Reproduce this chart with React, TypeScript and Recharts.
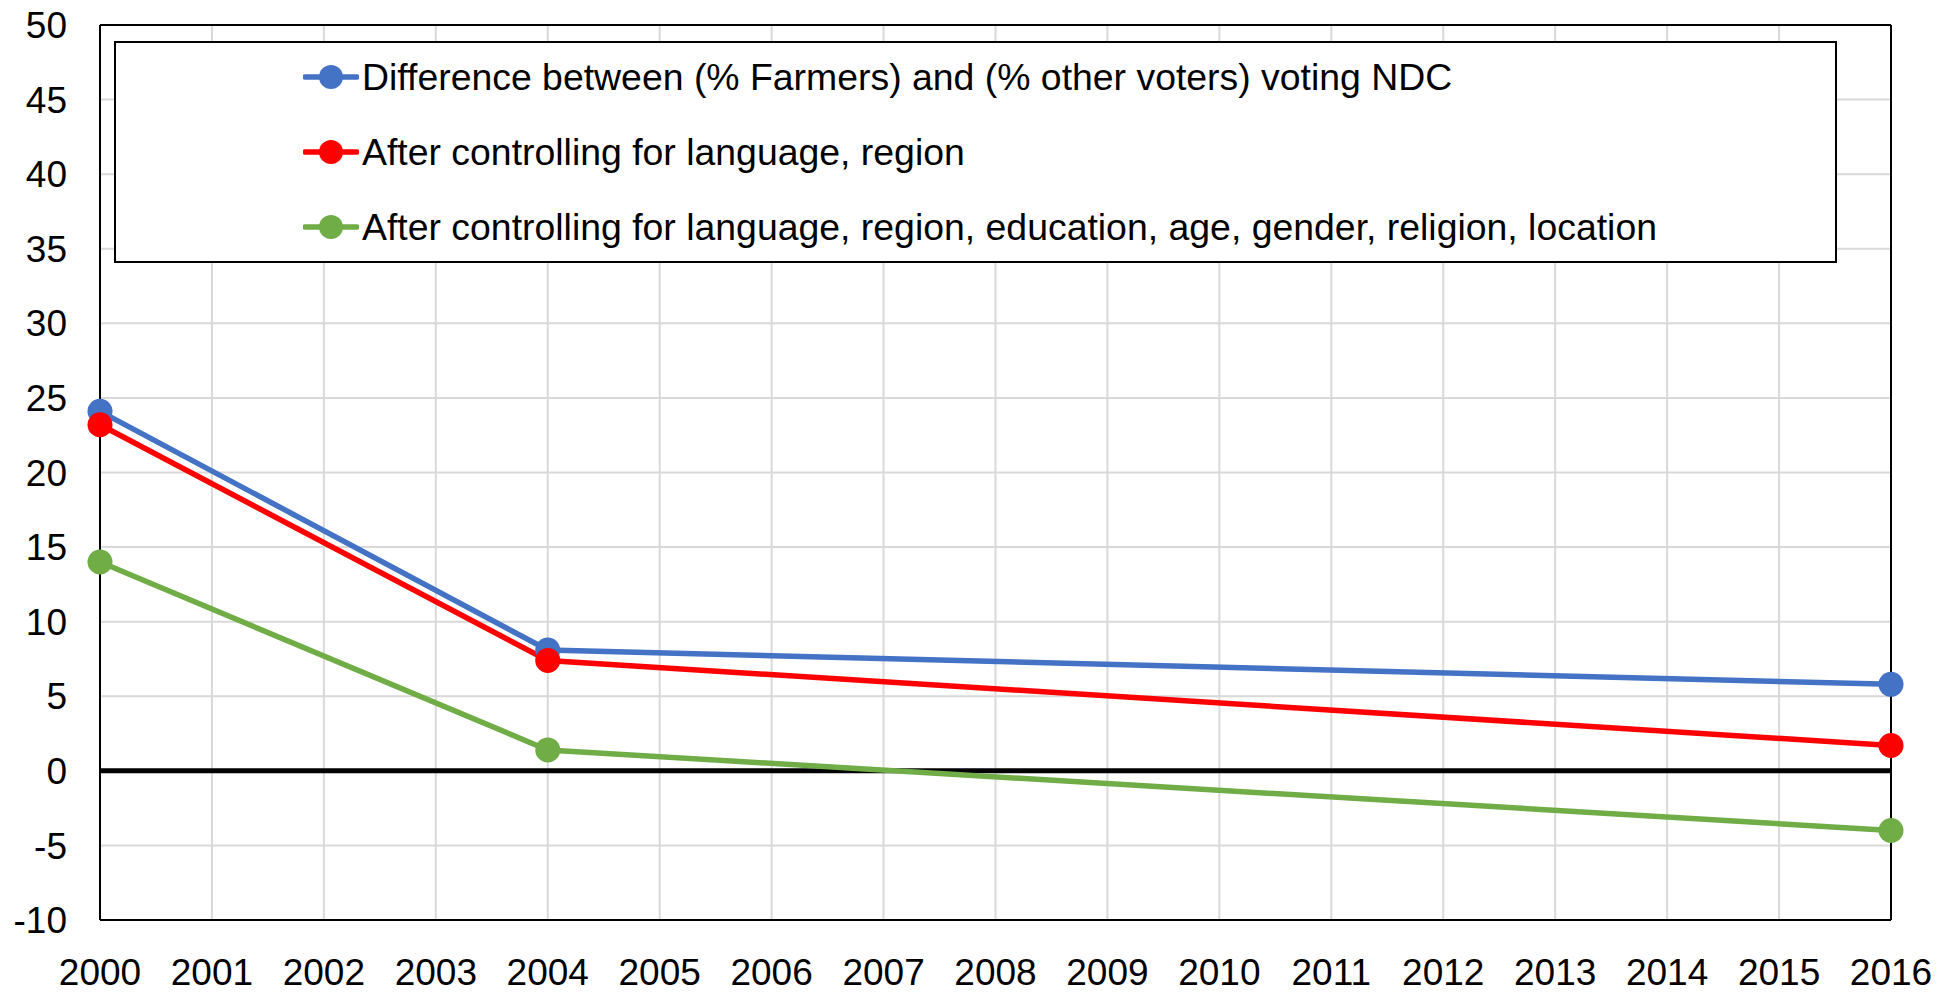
import React from 'react'
import { LineChart, Line, XAxis, YAxis, CartesianGrid, ReferenceLine } from 'recharts'

const SURVEY_YEARS = [2000, 2004, 2016]
const RAW_GAP = [24.1, 8.1, 5.8]
const CTRL_LANG_REGION = [23.2, 7.4, 1.7]
const CTRL_ALL = [14.0, 1.4, -4.0]

const YEAR_TICKS = [2000, 2001, 2002, 2003, 2004, 2005, 2006, 2007, 2008, 2009, 2010, 2011, 2012, 2013, 2014, 2015, 2016]
const VALUE_TICKS = [-10, -5, 0, 5, 10, 15, 20, 25, 30, 35, 40, 45, 50]

const SERIES = [
  { key: 'raw', name: 'Difference between (% Farmers) and (% other voters) voting NDC', colour: '#4472C4', values: RAW_GAP },
  { key: 'lang', name: 'After controlling for language, region', colour: '#FF0000', values: CTRL_LANG_REGION },
  { key: 'all', name: 'After controlling for language, region, education, age, gender, religion, location', colour: '#70AD47', values: CTRL_ALL },
]

const FONT = '"Liberation Sans", Arial, sans-serif'

export default function App() {
  const data = SURVEY_YEARS.map((year, i) => {
    const row: Record<string, number> = { year }
    for (const s of SERIES) row[s.key] = s.values[i]
    return row
  })

  return (
    <div style={{ position: 'fixed', left: 0, top: 0, width: 1955, height: 992, background: '#fff', fontFamily: FONT }}>
      <LineChart width={1955} height={992} data={data} margin={{ top: 25, right: 64, left: 0, bottom: 12 }}>
        <CartesianGrid stroke="#d9d9d9" strokeWidth={2} />
        <XAxis
          dataKey="year"
          type="number"
          domain={[2000, 2016]}
          ticks={YEAR_TICKS}
          allowDecimals={false}
          height={60}
          tickSize={0}
          tickMargin={39}
          axisLine={{ stroke: '#000', strokeWidth: 2 }}
          tick={{ fill: '#000', fontSize: 37, fontFamily: FONT }}
          interval={0}
        />
        <YAxis
          type="number"
          domain={[-10, 50]}
          ticks={VALUE_TICKS}
          width={100}
          tickSize={0}
          tickMargin={33}
          axisLine={{ stroke: '#000', strokeWidth: 2 }}
          tick={{ fill: '#000', fontSize: 37, fontFamily: FONT }}
          interval={0}
        />
        <ReferenceLine y={50} stroke="#000" strokeWidth={2} />
        <ReferenceLine x={2016} stroke="#000" strokeWidth={2} />
        <ReferenceLine y={0} stroke="#000" strokeWidth={5} />
        {SERIES.map(s => (
          <Line
            key={s.key}
            dataKey={s.key}
            type="linear"
            stroke={s.colour}
            strokeWidth={5.5}
            dot={{ r: 12.5, fill: s.colour, stroke: s.colour, strokeWidth: 0 }}
            activeDot={false}
            isAnimationActive={false}
          />
        ))}
      </LineChart>

      {/* legend */}
      <div style={{
        position: 'absolute', left: 114, top: 41, width: 1723, height: 222,
        boxSizing: 'border-box', border: '2px solid #000', background: '#fff',
      }}>
        {SERIES.map((s, i) => (
          <div key={s.key} style={{ position: 'absolute', left: 187, top: 34 + i * 75 - 20, height: 40, display: 'flex', alignItems: 'center' }}>
            <svg width={56} height={40} style={{ display: 'block' }}>
              <line x1={2} y1={20} x2={54} y2={20} stroke={s.colour} strokeWidth={5.5} strokeLinecap="round" />
              <circle cx={28} cy={20} r={12} fill={s.colour} />
            </svg>
            <span style={{ fontSize: 37.4, color: '#000', whiteSpace: 'nowrap', marginLeft: 3, lineHeight: '40px' }}>{s.name}</span>
          </div>
        ))}
      </div>
    </div>
  )
}
